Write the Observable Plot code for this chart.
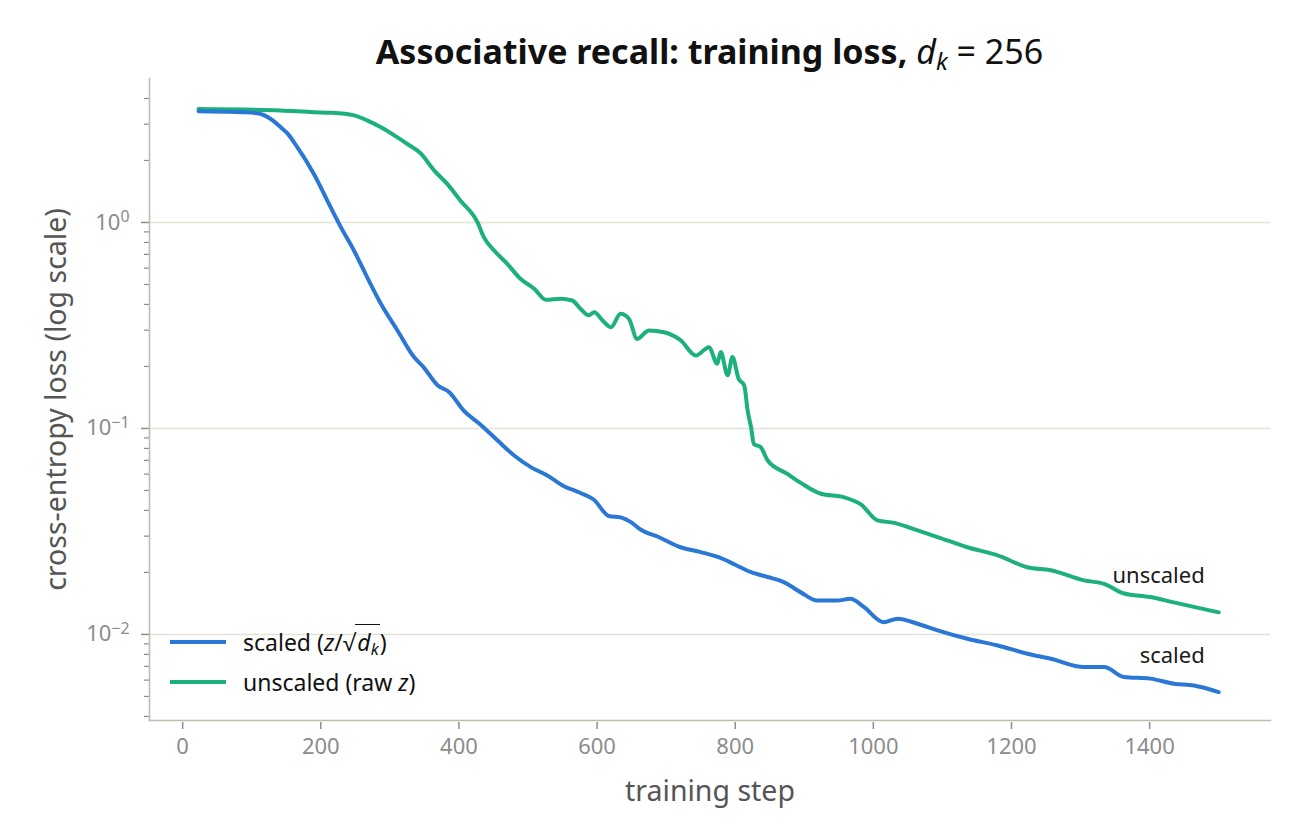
<!DOCTYPE html>
<html>
<head>
<meta charset="utf-8">
<script src="https://cdn.jsdelivr.net/npm/d3@7"></script>
<script src="https://cdn.jsdelivr.net/npm/@observablehq/plot@0.6"></script>
<style>
  html, body { margin: 0; padding: 0; background: #fff; }
  body { font-family: "Noto Sans", "Open Sans", sans-serif; }
  #wrap { position: relative; width: 1300px; height: 840px; overflow: hidden; }
  #title {
    box-sizing: border-box; height: 70px; padding-top: 31px; line-height: 40px;
    margin-left: 149px; width: 1121px; text-align: center;
    font-size: 34px; font-weight: bold; color: #111;
  }
  #title .math { font-weight: normal; }
  #title sub { font-size: 0.7em; line-height: 0; vertical-align: -0.25em; }
  #legend { position: absolute; left: 170px; top: 622px; font-size: 23px; color: #111; }
  #legend .row { display: flex; align-items: center; height: 40px; }
  #legend .swatch { width: 56px; height: 4px; margin-right: 17px; }
  #legend sub { font-size: 0.7em; line-height: 0; vertical-align: -0.25em; }
  .rad { border-top: 1.3px solid #111; padding: 1px 1px 0 2px; }
</style>
</head>
<body>
<div id="wrap">
  <div id="title">Associative recall: training loss, <span class="math"><i>d</i><sub><i>k</i></sub> = 256</span></div>
  <div id="chart"></div>
  <div id="legend"></div>
</div>
<script>
// Training step / loss readings for the two runs
const scaledStep = [23, 60, 85, 108, 127, 142, 152, 166, 190, 214, 229, 248, 267, 287, 311, 335, 349, 369, 386, 407, 431, 456, 480, 504, 528, 550, 576, 595, 617, 634, 649, 663, 689, 721, 750, 776, 800, 822, 847, 871, 895, 919, 948, 967, 986, 1015, 1035, 1064, 1093, 1136, 1180, 1223, 1257, 1305, 1334, 1363, 1401, 1435, 1464, 1500];
const scaledLoss = [3.47, 3.45, 3.43, 3.39, 3.19, 2.90, 2.70, 2.32, 1.72, 1.19, 0.949, 0.731, 0.543, 0.403, 0.299, 0.222, 0.198, 0.162, 0.150, 0.122, 0.1046, 0.0874, 0.0739, 0.0649, 0.0591, 0.0529, 0.0486, 0.0452, 0.0376, 0.0370, 0.0351, 0.0323, 0.0297, 0.0265, 0.0251, 0.0237, 0.0218, 0.0201, 0.0190, 0.0179, 0.0160, 0.0146, 0.0146, 0.0149, 0.0136, 0.01147, 0.01192, 0.01127, 0.01046, 0.00953, 0.00884, 0.00806, 0.00762, 0.00694, 0.00694, 0.00621, 0.00610, 0.00576, 0.00565, 0.00525];

const unscaledStep = [23, 142, 190, 214, 248, 267, 287, 311, 325, 345, 364, 383, 402, 427, 436, 451, 470, 489, 509, 526, 547, 564, 576, 588, 596, 608, 620, 634, 646, 658, 675, 697, 721, 743, 762, 774, 779, 789, 796, 805, 813, 818, 823, 827, 837, 847, 875, 895, 924, 957, 982, 1006, 1030, 1064, 1093, 1136, 1180, 1223, 1257, 1305, 1334, 1363, 1401, 1435, 1464, 1500];
const unscaledLoss = [3.56, 3.50, 3.43, 3.41, 3.31, 3.13, 2.90, 2.59, 2.41, 2.16, 1.79, 1.54, 1.28, 1.00, 0.849, 0.731, 0.630, 0.533, 0.477, 0.421, 0.426, 0.418, 0.381, 0.354, 0.367, 0.334, 0.310, 0.360, 0.341, 0.272, 0.299, 0.293, 0.268, 0.226, 0.248, 0.206, 0.235, 0.181, 0.222, 0.174, 0.162, 0.122, 0.101, 0.084, 0.081, 0.0699, 0.0603, 0.0544, 0.0482, 0.0464, 0.0428, 0.0358, 0.0348, 0.0320, 0.0297, 0.0265, 0.0242, 0.0212, 0.0205, 0.0183, 0.0176, 0.0158, 0.0152, 0.0143, 0.0136, 0.0128];

const xTicks = [0, 200, 400, 600, 800, 1000, 1200, 1400];
const yMajorTicks = [1, 0.1, 0.01];
const yMajorExponents = ["0", "\u22121", "\u22122"];
const yMinorTicks = [0.004, 0.005, 0.006, 0.007, 0.008, 0.009,
                     0.02, 0.03, 0.04, 0.05, 0.06, 0.07, 0.08, 0.09,
                     0.2, 0.3, 0.4, 0.5, 0.6, 0.7, 0.8, 0.9,
                     2, 3, 4];

const runNames = ["scaled", "unscaled"];
const runColors = ["#2a77d6", "#1cb07b"];

const scaled = scaledStep.map((s, i) => ({step: s, loss: scaledLoss[i], run: runNames[0]}));
const unscaled = unscaledStep.map((s, i) => ({step: s, loss: unscaledLoss[i], run: runNames[1]}));
const endPoints = [scaled[scaled.length - 1], unscaled[unscaled.length - 1]];

const axisGrey = "#8c8c8c";
const spine = "#bdbdb0";

const chart = Plot.plot({
  width: 1300,
  height: 770,
  marginTop: 8,
  marginLeft: 149,
  marginRight: 30,
  marginBottom: 120,
  style: {fontFamily: "'Noto Sans', 'Open Sans', sans-serif", background: "#fff", overflow: "visible"},
  x: {domain: [-48, 1575]},
  y: {type: "log", domain: [0.00382, 5.0]},
  color: {domain: runNames, range: runColors},
  marks: [
    Plot.gridY(yMajorTicks, {stroke: "#e2e2d8", strokeOpacity: 1, strokeWidth: 1.5}),
    Plot.axisY(yMinorTicks, {tickSize: 5, stroke: axisGrey, strokeWidth: 1.2, tickFormat: () => "", label: null}),
    Plot.axisY(yMajorTicks, {
      tickSize: 8, tickPadding: 12, stroke: axisGrey, strokeWidth: 1.5, fill: axisGrey, fontSize: 22,
      tickFormat: (d) => "10^" + yMajorExponents[yMajorTicks.indexOf(d)],
      label: "cross-entropy loss (log scale)", labelAnchor: "center", labelArrow: "none", labelOffset: 104
    }),
    Plot.axisX(xTicks, {
      tickSize: 7, tickPadding: 9, dy: 2, stroke: axisGrey, strokeWidth: 1.5, fill: axisGrey, fontSize: 22,
      tickFormat: (d) => String(d),
      label: "training step", labelAnchor: "center", labelArrow: "none", labelOffset: 80
    }),
    Plot.frame({anchor: "left", stroke: spine, strokeWidth: 1.6}),
    Plot.frame({anchor: "bottom", stroke: spine, strokeWidth: 1.6}),
    Plot.line(unscaled, {x: "step", y: "loss", stroke: "run", strokeWidth: 4, curve: "monotone-x"}),
    Plot.line(scaled, {x: "step", y: "loss", stroke: "run", strokeWidth: 4, curve: "monotone-x"}),
    Plot.text(endPoints, {x: "step", y: "loss", text: "run", textAnchor: "end", dx: -14, dy: -36, fontSize: 22, fill: "#1a1a1a"})
  ]
});

const svg = d3.select(chart);

// axis titles are darker and larger than tick labels
svg.selectAll('g[aria-label="x-axis label"], g[aria-label="y-axis label"]')
  .attr("fill", "#555").attr("font-size", 28.5)
  .selectAll("text").attr("fill", "#555").attr("font-size", 28.5);

// log-axis labels as 10 with a raised exponent
svg.selectAll('g[aria-label="y-axis tick label"] text').each(function () {
  const t = d3.select(this);
  const s = t.text();
  if (!s.startsWith("10^")) return;
  t.text("10");
  t.append("tspan").attr("dy", "-0.45em").attr("font-size", "0.72em").text(s.slice(3));
});

document.getElementById("chart").appendChild(chart);

// legend drawn in the lower-left corner of the plot area
const legendRows = [
  {color: runColors[0], html: 'scaled (<i>z</i>/√<span class="rad"><i>d</i><sub><i>k</i></sub></span>)'},
  {color: runColors[1], html: 'unscaled (raw <i>z</i>)'}
];
const legend = d3.select("#legend");
legendRows.forEach(r => {
  const row = legend.append("div").attr("class", "row");
  row.append("div").attr("class", "swatch").style("background", r.color);
  row.append("span").html(r.html);
});
</script>
</body>
</html>
